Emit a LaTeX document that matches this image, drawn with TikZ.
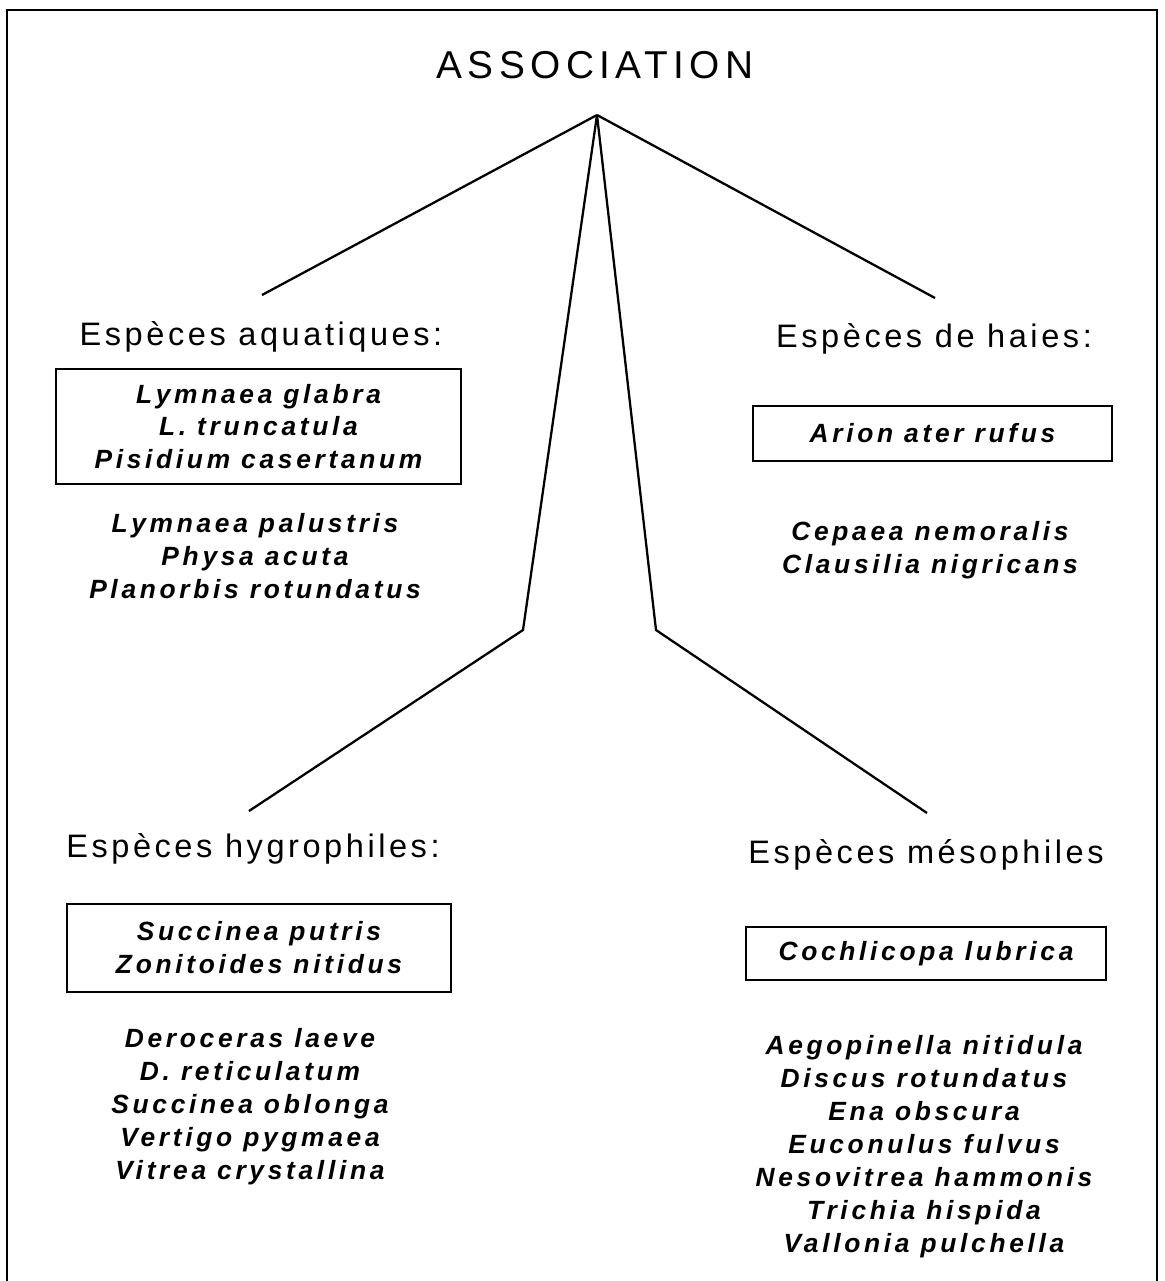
\documentclass[tikz,border=0pt]{standalone}
\usepackage{fontspec}
\setsansfont{Liberation Sans}
\newfontfamily\ttlfont[LetterSpace=14]{Liberation Sans}
\newfontfamily\hdfont[LetterSpace=11]{Liberation Sans}
\newfontfamily\spfont[LetterSpace=14]{Liberation Sans}

\begin{document}
\begin{tikzpicture}[
  title/.style={font=\ttlfont\fontsize{22.1}{26}\selectfont, anchor=base, inner sep=0pt},
  grp/.style={font=\hdfont\fontsize{18.5}{22}\selectfont, anchor=base, inner sep=0pt},
  spbox/.style={draw, line width=1pt, inner sep=0pt, align=center,
    font=\spfont\bfseries\itshape\fontsize{15}{18.7}\selectfont},
  splist/.style={anchor=base, inner sep=0pt, align=center,
    font=\spfont\bfseries\itshape\fontsize{15}{18.7}\selectfont},
  link/.style={line width=1.3pt},
]

\useasboundingbox (0,0) rectangle (23.3,-25.62);

% frame
\draw[line width=1.1pt] (0.14,-25.62) |- (23.14,-0.2) -- (23.14,-25.62);

% --- title ---
\node[title] (assoc) at (11.9,-1.56) {ASSOCIATION};
\coordinate (top) at (11.94,-2.30);

% --- Espèces aquatiques ---
\coordinate (aqend) at (5.24,-5.90);
\node[grp] (aq) at (5.22,-6.90) {Espèces aquatiques:};
\node[spbox, minimum width=8.1cm, minimum height=2.3cm] (aqbox) at (5.17,-8.53)
  {Lymnaea glabra\\L. truncatula\\Pisidium casertanum};
% base = last line
\node[splist] (aqlist) at (5.10,-11.96)
  {Lymnaea palustris\\Physa acuta\\Planorbis rotundatus};

% --- Espèces de haies ---
\coordinate (haend) at (18.70,-5.96);
\node[grp] (ha) at (18.68,-6.94) {Espèces de haies:};
\node[spbox, minimum width=7.18cm, minimum height=1.1cm] (habox) at (18.65,-8.67)
  {Arion ater rufus};
\node[splist] (halist) at (18.60,-11.46)
  {Cepaea nemoralis\\Clausilia nigricans};

% --- Espèces hygrophiles ---
\coordinate (hybend) at (10.46,-12.60);
\coordinate (hyend) at (4.98,-16.22);
\node[grp] (hy) at (5.06,-17.14) {Espèces hygrophiles:};
\node[spbox, minimum width=7.68cm, minimum height=1.76cm] (hybox) at (5.18,-18.96)
  {Succinea putris\\Zonitoides nitidus};
\node[splist] (hylist) at (5.00,-23.58)
  {Deroceras laeve\\D. reticulatum\\Succinea oblonga\\Vertigo pygmaea\\Vitrea crystallina};

% --- Espèces mésophiles ---
\coordinate (mebend) at (13.12,-12.60);
\coordinate (meend) at (18.54,-16.26);
\node[grp] (me) at (18.52,-17.26) {Espèces mésophiles};
\node[spbox, minimum width=7.2cm, minimum height=1.06cm] (mebox) at (18.52,-19.07)
  {Cochlicopa lubrica};
\node[splist] (melist) at (18.48,-25.04)
  {Aegopinella nitidula\\Discus rotundatus\\Ena obscura\\Euconulus fulvus\\Nesovitrea hammonis\\Trichia hispida\\Vallonia pulchella};

% links
\draw[link] (top) -- (aqend);
\draw[link] (top) -- (haend);
\draw[link] (top) -- (hybend) -- (hyend);
\draw[link] (top) -- (mebend) -- (meend);

\end{tikzpicture}
\end{document}
